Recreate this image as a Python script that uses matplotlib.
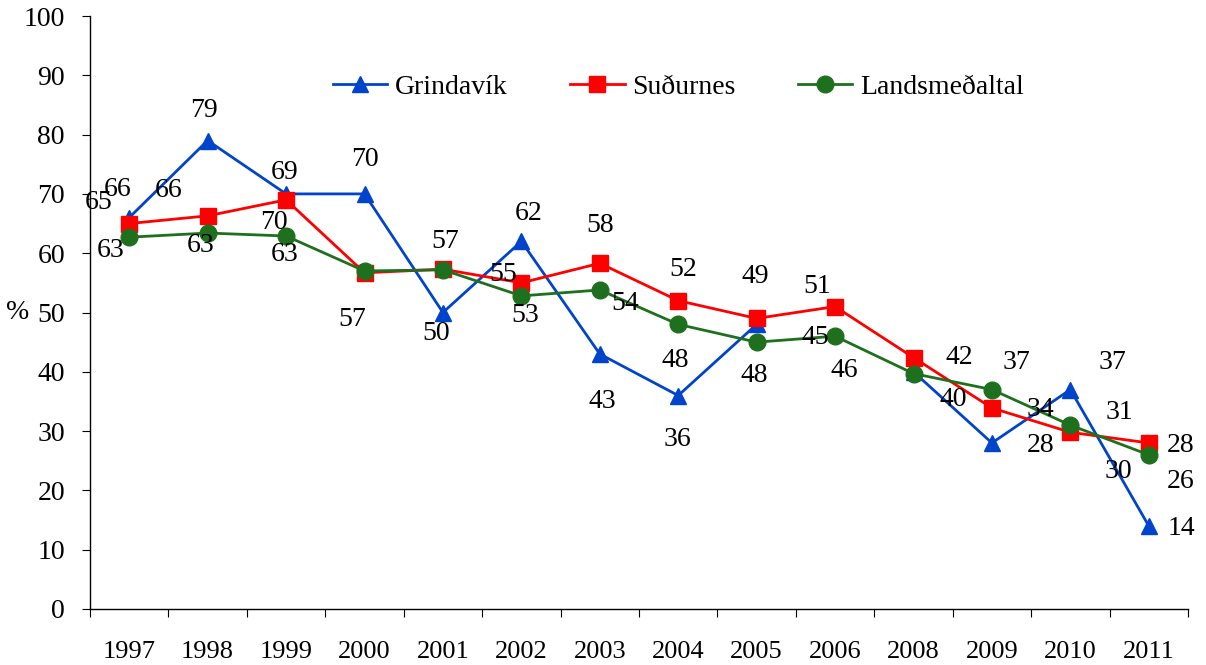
import matplotlib
matplotlib.use('Agg')
import matplotlib.pyplot as plt
import numpy as np

years = ['1997', '1998', '1999', '2000', '2001', '2002', '2003',
         '2004', '2005', '2006', '2008', '2009', '2010', '2011']
grindavik = [66, 79, 70, 70, 50, 62, 43, 36, 48, np.nan, 40, 28, 37, 14]
sudurnes = [65, 66.3, 69, 56.7, 57.3, 55, 58.3, 52, 49, 51, 42.4, 33.9, 29.8, 28]
lands = [62.7, 63.4, 62.9, 57, 57.2, 52.8, 53.8, 48, 45, 46, 39.7, 37, 31, 26]
yticks = list(range(0, 101, 10))

# label offsets in pixels (dx, dy) relative to each point; None = not shown
g_off = [(-12, 28), (-4, 30), (-12, -29), (0, 34), (-7, -21), (7, 28), (3, -47),
         (-1, -44), (-2, -51), None, (40, -28), (49, -3), (42, 27), (33, -3)]
s_off = [(-31, 21), (-39, 25), (-1, 27), (-12, -47), (2, 28), (-18, 8), (0, 38),
         (5, 31), (-1, 42), (-18, 20), (46, 0), (48, -2), (48, -39), (32, -3)]
l_off = [(-19, -13), (-7, -12), (-1, -18), None, None, (4, -20), (25, -14),
         (-3, -36), (59, 5), (9, -34), None, (25, 27), (49, 13), (32, -27)]

plt.rcParams['font.family'] = ['Liberation Serif', 'DejaVu Serif']

fig = plt.figure(figsize=(12.06, 6.65), dpi=100)
ax = fig.add_axes([90 / 1206, 56 / 665, 1098 / 1206, 593 / 665])

x = np.arange(len(years))
blue = '#0044CC'
red = '#FF0000'
green = '#1E701E'

ax.plot(x, grindavik, color=blue, marker='^', ms=11, lw=2, zorder=3, label='Grindavík')
ax.plot(x, sudurnes, color=red, marker='s', ms=11, lw=2, zorder=4, label='Suðurnes')
ax.plot(x, lands, color=green, marker='o', ms=12, lw=2, zorder=5, label='Landsmeðaltal')

for vals, offs in ((grindavik, g_off), (sudurnes, s_off), (lands, l_off)):
    for i, (v, o) in enumerate(zip(vals, offs)):
        if o is None or np.isnan(v):
            continue
        ax.annotate(f'{round(v)}', xy=(i, v), xytext=o, textcoords='offset pixels',
                    ha='center', va='center', fontsize=20, color='black', zorder=6)

ax.set_xlim(-0.5, len(years) - 0.5)
ax.set_ylim(0, 100)
ax.set_yticks(yticks)
ax.tick_params(axis='y', labelsize=20, length=6, width=0.8, pad=12, direction='out')

ax.set_xticks(np.arange(len(years) + 1) - 0.5)
ax.set_xticklabels([])
ax.set_xticks(x, minor=True)
ax.set_xticklabels(years, minor=True)
ax.tick_params(axis='x', which='major', length=6, width=0.8, direction='out')
ax.tick_params(axis='x', which='minor', length=0, labelsize=19, pad=23)

for side in ('top', 'right'):
    ax.spines[side].set_visible(False)
for side in ('left', 'bottom'):
    ax.spines[side].set_linewidth(1.0)

ax.set_ylabel('%', rotation=0, fontsize=20, labelpad=4, va='center')

leg = ax.legend(loc='center', bbox_to_anchor=(0.536, 0.88), ncol=3, frameon=False,
                fontsize=20, handlelength=1.95, handletextpad=0.28, columnspacing=2.25,
                numpoints=1)

fig.savefig('out.png', dpi=100, facecolor='white')
